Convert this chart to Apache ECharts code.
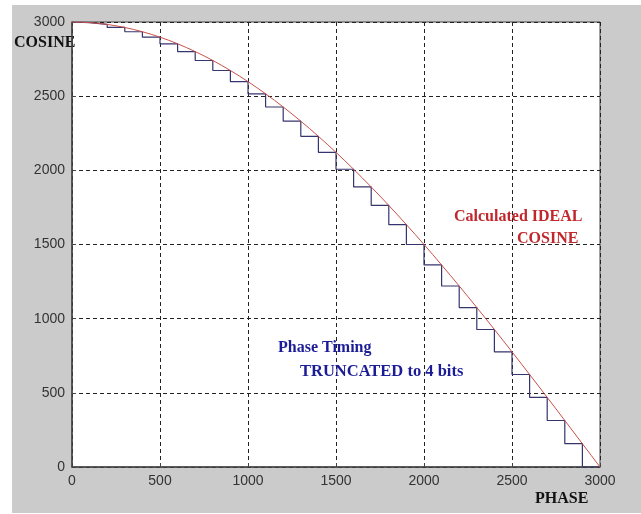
<!DOCTYPE html>
<html>
<head>
<meta charset="utf-8">
<script src="https://cdn.jsdelivr.net/npm/echarts@6/dist/echarts.min.js"></script>
<style>
html,body{margin:0;padding:0;background:#fff;}
#chart{width:641px;height:514px;}
</style>
</head>
<body>
<div id="chart"></div>
<script>
// Ideal cosine (red) sampled every 50 phase units
var idealPhase = [0,50,100,150,200,250,300,350,400,450,500,550,600,650,700,750,800,850,900,950,
  1000,1050,1100,1150,1200,1250,1300,1350,1400,1450,1500,1550,1600,1650,1700,1750,1800,1850,1900,1950,
  2000,2050,2100,2150,2200,2250,2300,2350,2400,2450,2500,2550,2600,2650,2700,2750,2800,2850,2900,2950,3000];
var idealCosine = [3000,2999.0,2995.9,2990.8,2983.6,2974.3,2963.1,2949.8,2934.4,2917.1,2897.8,2876.5,2853.2,2827.9,2800.7,2771.6,2740.6,2707.8,2673.0,2636.5,
  2598.1,2557.9,2516.0,2472.4,2427.1,2380.1,2331.4,2281.2,2229.4,2176.1,2121.3,2065.1,2007.4,1948.3,1888.0,1826.3,1763.4,1699.2,1633.9,1567.5,
  1500.0,1431.5,1362.0,1291.5,1220.2,1148.0,1075.1,1001.4,927.1,852.0,776.5,700.3,623.7,546.7,469.3,391.6,313.6,235.4,157.0,78.5,0];

// Truncated-phase staircase (blue)
var stepPhase = [0,100,200,300,400,500,600,700,800,900,1000,1100,1200,1300,1400,1500,
  1600,1700,1800,1900,2000,2100,2200,2300,2400,2500,2600,2700,2800,2900,3000];
var stepCosine = [3000,2995.9,2983.6,2963.1,2934.4,2897.8,2853.2,2800.7,2740.6,2673.0,2598.1,2516.0,2427.1,2331.4,2229.4,2121.3,
  2007.4,1888.0,1763.4,1633.9,1500.0,1362.0,1220.2,1075.1,927.1,776.5,623.7,469.3,313.6,157.0,0];

var xTicks = [0,500,1000,1500,2000,2500,3000];
var yTicks = [0,500,1000,1500,2000,2500,3000];

function pairs(xs, ys){ return xs.map(function(x,i){ return [x, ys[i]]; }); }

var chart = echarts.init(document.getElementById('chart'), null, {renderer:'canvas'});
var serif = '"Liberation Serif","Times New Roman",serif';
var tickFont = {fontFamily:'"Liberation Sans",Arial,sans-serif', fontSize:14, color:'#333'};
chart.setOption({
  animation:false,
  backgroundColor:'#fff',
  graphic:[
    {type:'rect', z:-10, shape:{x:12,y:5,width:629,height:508}, style:{fill:'#cbcbcb'}},
    {type:'text', left:14, top:35, style:{text:'COSINE', font:'bold 16px '+serif, fill:'#111'}},
    {type:'text', left:535, top:491, style:{text:'PHASE', font:'bold 16px '+serif, fill:'#111'}},
    {type:'text', left:454, top:209, z:20, style:{text:'Calculated IDEAL', font:'bold 16px '+serif, fill:'#c0282d'}},
    {type:'text', left:517, top:231, z:20, style:{text:'COSINE', font:'bold 16px '+serif, fill:'#c0282d'}},
    {type:'text', left:278, top:340, z:20, style:{text:'Phase Timing', font:'bold 16px '+serif, fill:'#1c1c96'}},
    {type:'text', left:300, top:363, z:20, style:{text:'TRUNCATED to 4 bits', font:'bold 16.5px '+serif, fill:'#1c1c96'}}
  ],
  grid:{left:72, top:22, right:41, bottom:47, show:true, backgroundColor:'#fff', borderColor:'#444', borderWidth:1},
  xAxis:{
    type:'value', min:0, max:3000, interval:500,
    axisLine:{show:true, onZero:false, lineStyle:{color:'#444', width:1.5}},
    axisTick:{show:true, inside:true, length:4, lineStyle:{color:'#444'}},
    axisLabel:Object.assign({margin:7, customValues:xTicks, formatter:function(v){return String(v);}}, tickFont),
    splitLine:{show:true, lineStyle:{color:'#222', type:[4,3], width:1}}
  },
  yAxis:{
    type:'value', min:0, max:3000, interval:500,
    axisLine:{show:true, onZero:false, lineStyle:{color:'#444', width:1.5}},
    axisTick:{show:true, inside:true, length:4, lineStyle:{color:'#444'}},
    axisLabel:Object.assign({margin:7, customValues:yTicks, formatter:function(v){return String(v);}}, tickFont),
    splitLine:{show:true, lineStyle:{color:'#222', type:[4,3], width:1}}
  },
  series:[
    {type:'line', name:'truncated', data:pairs(stepPhase, stepCosine), step:'start', showSymbol:false,
     lineStyle:{color:'#34346e', width:1.2}, z:3},
    {type:'line', name:'ideal', data:pairs(idealPhase, idealCosine), showSymbol:false,
     lineStyle:{color:'#c8504a', width:1}, z:4}
  ]
});
</script>
</body>
</html>
